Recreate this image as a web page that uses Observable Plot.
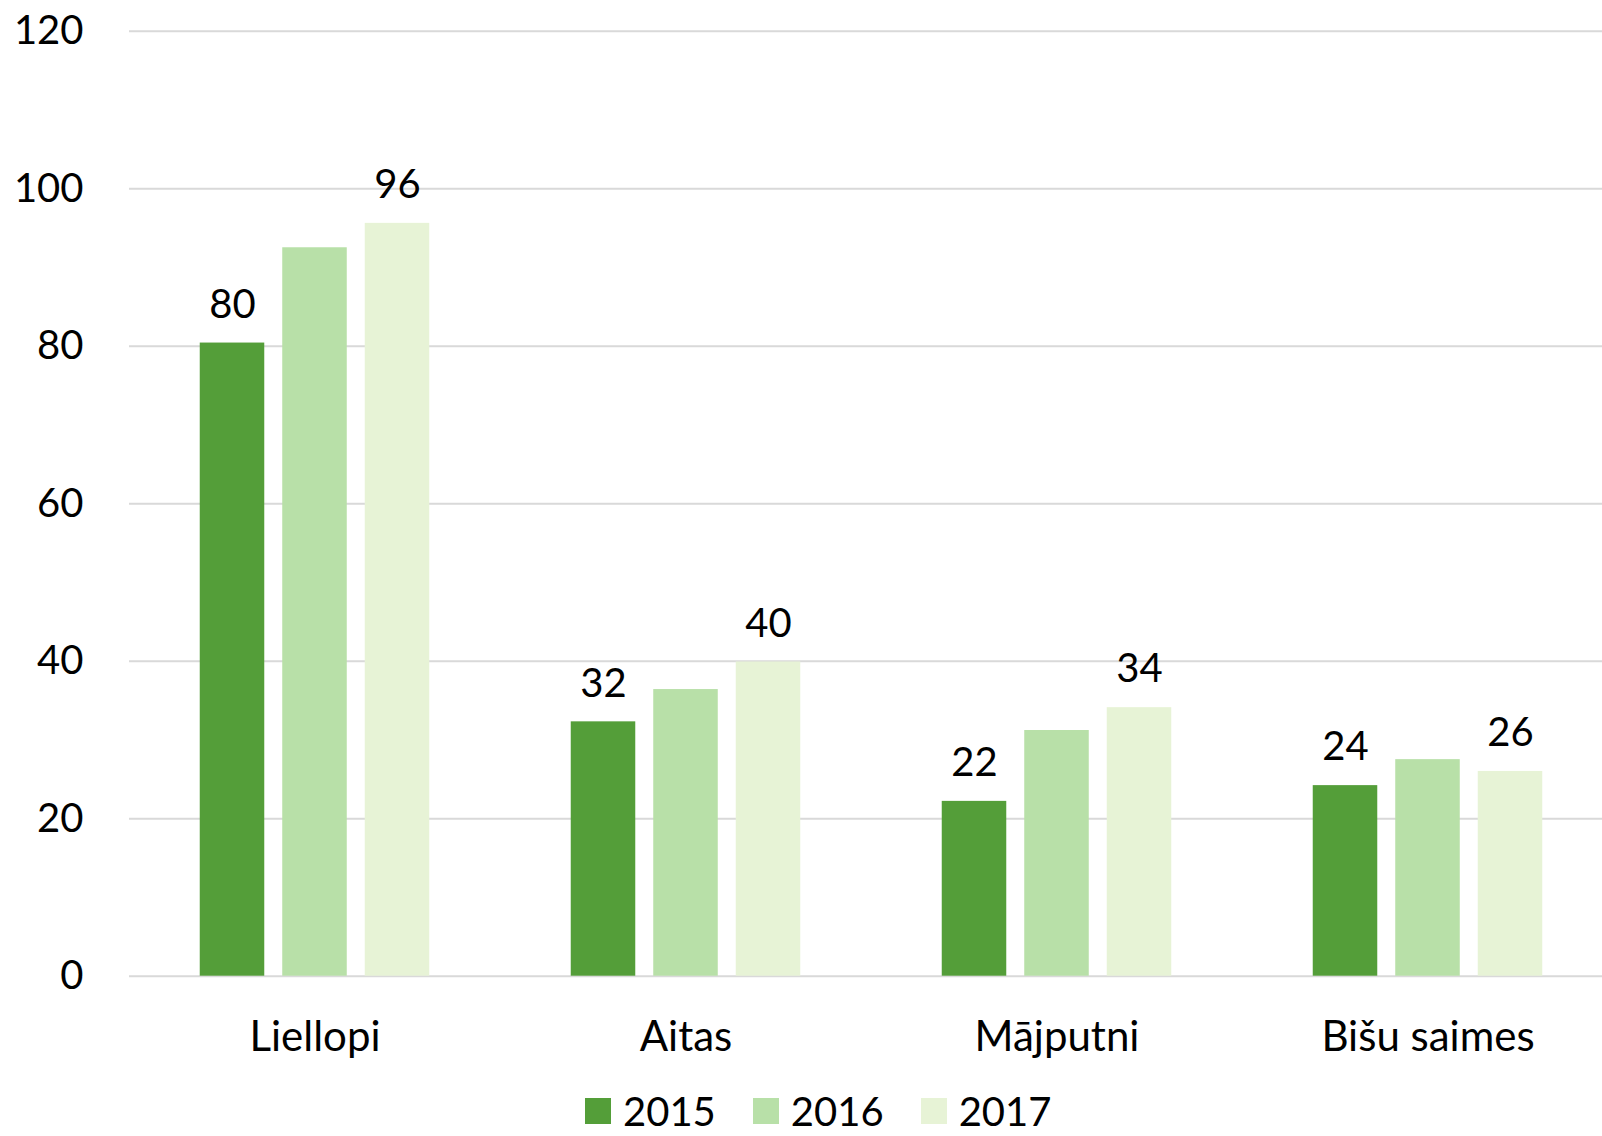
<!DOCTYPE html>
<html>
<head>
<meta charset="utf-8">
<script src="https://cdn.jsdelivr.net/npm/d3@7"></script>
<script src="https://cdn.jsdelivr.net/npm/@observablehq/plot@0.6"></script>
<style>
  html, body { margin: 0; padding: 0; background: #fff; }
  body { width: 1602px; height: 1136px; overflow: hidden; font-family: Lato, "Open Sans", sans-serif; color: #000; }
  #chart svg { display: block; }
  #legend { padding-left: 585px; margin-top: 9px; height: 34px; }
  #legend > div { font-size: 40px !important; line-height: 34px !important; min-height: 34px !important; font-family: Lato, sans-serif !important; color: #000 !important; margin: 0 !important; }
  #legend span { margin-right: 37px !important; line-height: 34px !important; }
  #legend span > svg { margin-right: 12px !important; }
</style>
</head>
<body>
<div id="chart"></div>
<div id="legend"></div>
<script>
const categories = ["Liellopi", "Aitas", "Mājputni", "Bišu saimes"];
const years = ["2015", "2016", "2017"];
const values2015 = [80.4, 32.3, 22.2, 24.2];
const values2016 = [92.5, 36.4, 31.2, 27.5];
const values2017 = [95.6, 39.9, 34.1, 26.0];
const labelledYears = ["2015", "2017"];
const yTicks = [0, 20, 40, 60, 80, 100, 120];
const colors = ["#549e39", "#b8e0a8", "#e7f3d6"];

const series = [values2015, values2016, values2017];
const data = categories.flatMap((c, i) =>
  years.map((yr, j) => ({category: c, year: yr, value: series[j][i]}))
);
const fmt = d3.format(".0f");

// fx band layout: each facet's outer half-gap, so grid rules tile seamlessly
const W = 1602, mL = 129, mR = -11;
const pInner = 0.2844, pOuter = pInner / 2;
const step = (W - mL - mR) / categories.length;
const halfGap = step * pInner / 2;

const plot = Plot.plot({
  width: W,
  height: 1085,
  marginLeft: mL,
  marginRight: mR,
  marginTop: 30.7,
  marginBottom: 109.3,
  style: {fontFamily: "Lato", fontSize: "40px", color: "#000", background: "#fff", overflow: "hidden"},
  fx: {domain: categories, paddingInner: pInner, paddingOuter: pOuter, round: false, axis: null},
  x: {domain: years, padding: 0.218, round: false, axis: null},
  y: {domain: [0, 120], axis: null},
  color: {domain: years, range: colors},
  marks: [
    Plot.ruleY(yTicks, {stroke: "#d9d9d9", strokeWidth: 2, insetLeft: -halfGap, insetRight: -halfGap}),
    Plot.axisY(yTicks, {anchor: "left", tickSize: 0, tickPadding: 46 + halfGap, label: null, fill: "#000"}),
    Plot.axisFx({anchor: "bottom", tickSize: 0, tickPadding: 44.5, label: null, fontSize: 42, fill: "#000"}),
    Plot.barY(data, {fx: "category", x: "year", y: "value", fill: "year"}),
    Plot.text(data.filter(d => labelledYears.includes(d.year)), {
      fx: "category", x: "year", y: "value", text: d => fmt(d.value), dy: -38, fill: "#000"
    })
  ]
});
document.getElementById("chart").appendChild(plot);

const legend = Plot.legend({
  color: {domain: years, range: colors},
  legend: "swatches",
  swatchSize: 26,
  style: {fontSize: "40px", fontFamily: "Lato"}
});
document.getElementById("legend").appendChild(legend);
</script>
</body>
</html>
